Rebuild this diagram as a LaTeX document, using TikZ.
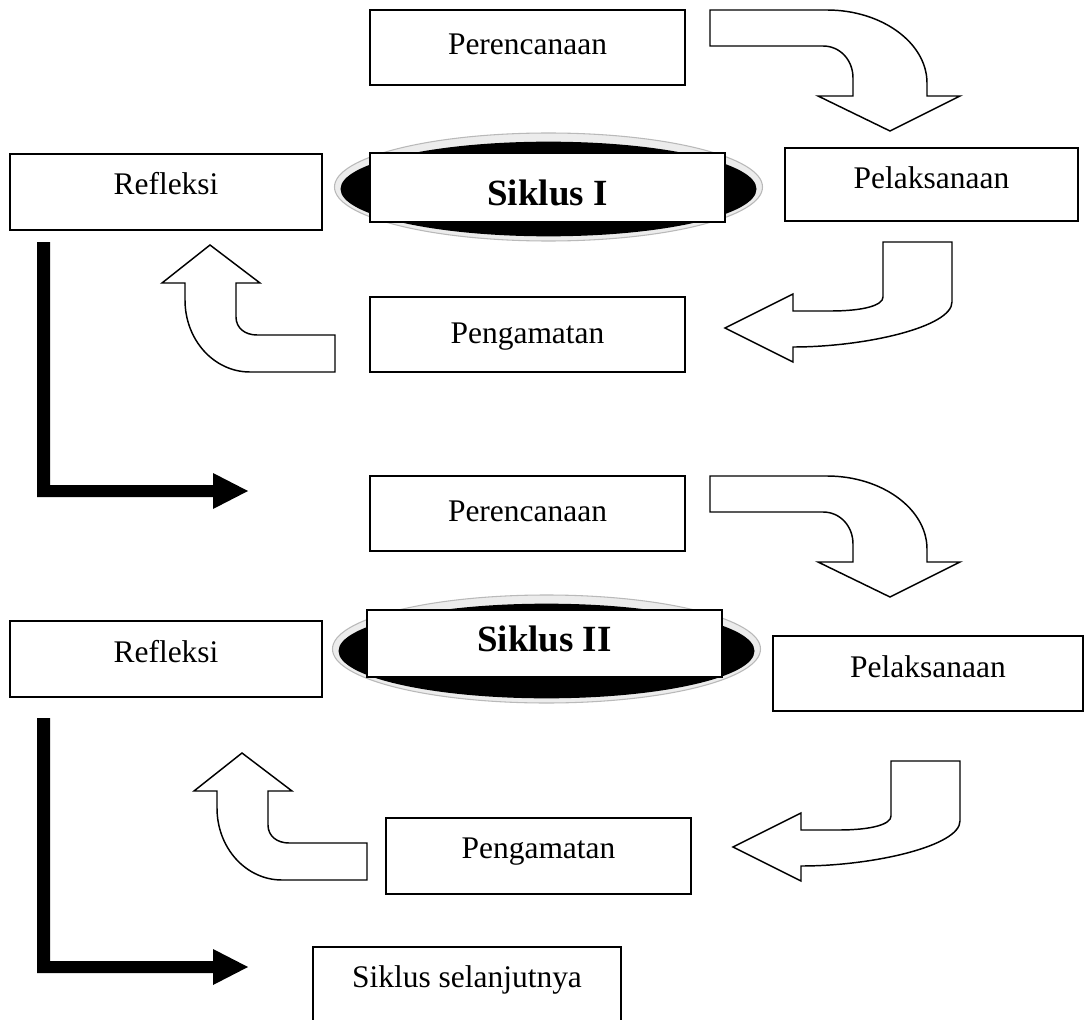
\documentclass[tikz,border=0pt]{standalone}
\usepackage{fontspec}
\setmainfont{Liberation Serif}
\begin{document}
\begin{tikzpicture}[x=0.75pt,y=-0.75pt,
  box/.style={draw=black, line width=1.1pt, fill=white, inner sep=0pt},
  lbl/.style={anchor=base, inner sep=0pt, font=\fontsize{23.6pt}{28pt}\selectfont},
  blbl/.style={anchor=base, inner sep=0pt, font=\fontsize{27.7pt}{32pt}\selectfont\bfseries},
  barrow/.style={draw=black, line width=1.1pt, fill=white, line join=miter},
  lconn/.style={fill=black},
  rim/.style={fill=gray!15, draw=gray!55, line width=0.8pt},
  core/.style={fill=black}]
\clip (0,0) rectangle (1089,1020);
\fill[white] (0,0) rectangle (1089,1020);

% ---------------- Cycle I ----------------
\node[box, minimum width=236.25pt, minimum height=56.25pt] (p1) at (527.5,47.5) {};
\node[lbl] (p1t) at (527.5,55) {Perencanaan};

\draw[barrow] (710,10) -- (827,10) .. controls (882,10) and (927,43) .. (927,83)
  -- (927,96) -- (960,96) -- (890,131) -- (818,96) -- (853,96) -- (853,78)
  .. controls (853,60) and (840,46) .. (823,46) -- (710,46) -- cycle;

\draw[rim] (548.5,187) ellipse [x radius=160.5pt, y radius=40.5pt];
\fill[core] (548.5,189) ellipse [x radius=156pt, y radius=35.5pt];
\node[box, minimum width=266.25pt, minimum height=51.75pt] (s1) at (547.5,187.5) {};
\node[blbl] (s1t) at (547.5,205) {Siklus I};

\node[box, minimum width=234pt, minimum height=57pt] (r1) at (166,192) {};
\node[lbl] (r1t) at (166,195) {Refleksi};

\node[box, minimum width=219.75pt, minimum height=54.75pt] (l1) at (931.5,184.5) {};
\node[lbl] (l1t) at (931.5,189) {Pelaksanaan};

\draw[barrow] (883,242) -- (952,242) -- (952,302)
  .. controls (952,327) and (865,347) .. (793,347)
  -- (793,362) -- (725,328) -- (793,294) -- (793,311) -- (830,311)
  .. controls (865,311) and (883,305) .. (883,297) -- cycle;

\node[box, minimum width=236.25pt, minimum height=56.25pt] (g1) at (527.5,334.5) {};
\node[lbl] (g1t) at (527.5,343) {Pengamatan};

\draw[barrow] (210,245) -- (260,283) -- (236,283) -- (236,317)
  .. controls (236,328) and (245,335) .. (257,335) -- (335,335) -- (335,372) -- (250,372)
  .. controls (214,372) and (185,340) .. (185,300) -- (185,283) -- (162,283) -- cycle;

\fill[lconn] (37,242) -- (50,242) -- (50,485) -- (213,485) -- (213,473) -- (248,491)
  -- (213,509) -- (213,497) -- (37,497) -- cycle;

% ---------------- Cycle II ----------------
\node[box, minimum width=236.25pt, minimum height=56.25pt] (p2) at (527.5,513.5) {};
\node[lbl] (p2t) at (527.5,521) {Perencanaan};

\begin{scope}[shift={(0,466)}]
\draw[barrow] (710,10) -- (827,10) .. controls (882,10) and (927,43) .. (927,83)
  -- (927,96) -- (960,96) -- (890,131) -- (818,96) -- (853,96) -- (853,78)
  .. controls (853,60) and (840,46) .. (823,46) -- (710,46) -- cycle;
\end{scope}

\draw[rim] (546.5,649) ellipse [x radius=160.5pt, y radius=40.5pt];
\fill[core] (546.5,651) ellipse [x radius=156pt, y radius=35.5pt];
\node[box, minimum width=266.25pt, minimum height=50.25pt] (s2) at (544.5,643.5) {};
\node[blbl] (s2t) at (544.5,651) {Siklus II};

\node[box, minimum width=234pt, minimum height=57pt] (r2) at (166,659) {};
\node[lbl] (r2t) at (166,662) {Refleksi};

\node[box, minimum width=232.5pt, minimum height=56.25pt] (l2) at (928,673.5) {};
\node[lbl] (l2t) at (928,677) {Pelaksanaan};

\begin{scope}[shift={(8,519)}]
\draw[barrow] (883,242) -- (952,242) -- (952,302)
  .. controls (952,327) and (865,347) .. (793,347)
  -- (793,362) -- (725,328) -- (793,294) -- (793,311) -- (830,311)
  .. controls (865,311) and (883,305) .. (883,297) -- cycle;
\end{scope}

\node[box, minimum width=228.75pt, minimum height=57pt] (g2) at (538.5,856) {};
\node[lbl] (g2t) at (538.5,858) {Pengamatan};

\begin{scope}[shift={(32,508)}]
\draw[barrow] (210,245) -- (260,283) -- (236,283) -- (236,317)
  .. controls (236,328) and (245,335) .. (257,335) -- (335,335) -- (335,372) -- (250,372)
  .. controls (214,372) and (185,340) .. (185,300) -- (185,283) -- (162,283) -- cycle;
\end{scope}

\begin{scope}[shift={(0,476)}]
\fill[lconn] (37,242) -- (50,242) -- (50,485) -- (213,485) -- (213,473) -- (248,491)
  -- (213,509) -- (213,497) -- (37,497) -- cycle;
\end{scope}

\node[box, minimum width=231pt, minimum height=69.75pt] (nx) at (467,993.5) {};
\node[lbl] (nxt) at (467,987) {Siklus selanjutnya};
\end{tikzpicture}
\end{document}
